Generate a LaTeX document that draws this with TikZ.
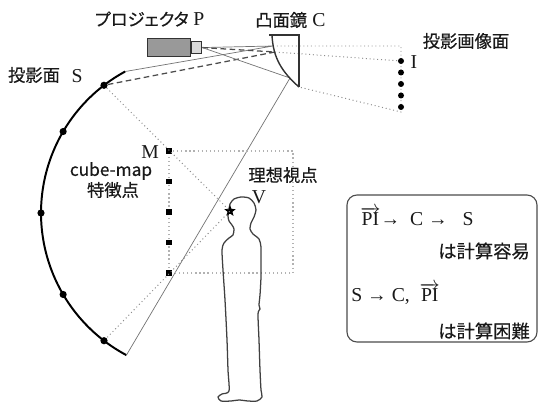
\documentclass[tikz,border=0pt]{standalone}
\usepackage{fontspec}
\setmainfont{Liberation Serif}
\newfontfamily\jpfont[FakeBold=0.45]{Noto Sans CJK JP}
\newfontfamily\jpnarrow[FakeBold=0.45, RawFeature=+palt]{Noto Sans CJK JP}
\usetikzlibrary{shapes.geometric}

\begin{document}
\begin{tikzpicture}[x=0.25mm, y=-0.25mm,
		every node/.style={inner sep=0pt, text=black!90, font=\fontsize{14}{16}\selectfont},
		jp/.style={font=\jpfont\fontsize{12.3}{14}\selectfont},
		jpbox/.style={font=\jpfont\fontsize{13}{15}\selectfont},
		sdot/.style={circle, fill=black, minimum size=1.8mm},
		idot/.style={circle, fill=black, minimum size=1.5mm},
		msq/.style={rectangle, fill=black, minimum size=1.3mm},
		ray/.style={black!55, line width=0.5pt},
		dray/.style={black!70, line width=0.9pt, dash pattern=on 4pt off 2.5pt},
		vray/.style={black!45, line width=0.7pt, dotted},
		frame/.style={black!30, line width=0.9pt, dotted}]
			\useasboundingbox (0,0) rectangle (540,403);

			\node[draw=black!80, fill=black!40, line width=0.8pt, minimum width=10.75mm, minimum height=4.5mm, anchor=north west] (body) at (147,38) {};
			\node[draw=black!80, fill=black!15, line width=0.8pt, minimum width=2.5mm, minimum height=2.9mm, anchor=west] (lens) at (body.east) {};

			\coordinate (mtop) at (273,46);
			\coordinate (mmid) at (275,52);
			\coordinate (mbot) at (290,78);
			\coordinate (mtip) at (299,87);

			\coordinate (stop) at ({202+161*cos(118.5)}, {213-161*sin(118.5)});
			\coordinate (sbot) at ({202+161*cos(242)}, {213-161*sin(242)});
			\node[sdot] (s1) at ({202+161*cos(127.5)}, {213-161*sin(127.5)}) {};
			\node[sdot] (s2) at ({202+161*cos(149.6)}, {213-161*sin(149.6)}) {};
			\node[sdot] (s3) at (41,213) {};
			\node[sdot] (s4) at ({202+161*cos(210.4)}, {213-161*sin(210.4)}) {};
			\node[sdot] (s5) at ({202+161*cos(232.5)}, {213-161*sin(232.5)}) {};
			\draw[black, line width=1.4pt, domain=118.5:242, samples=80] plot ({202+161*cos(\x)}, {213-161*sin(\x)});

			\draw[ray] (lens.east) -- (mtop) -- (stop);
			\draw[dray] (lens.east) -- (mmid) -- (s1);
			\draw[ray] (lens.east) -- (mbot) -- (sbot);

			\coordinate (itop) at (401,46);
			\coordinate (ibot) at (401,112);
			\draw[vray] (mtop) -- (itop) -- (ibot) -- (mtip);
			\node[idot] (i1) at (401,61) {};
			\node[idot] (i2) at (401,72.5) {};
			\node[idot] (i3) at (401,84) {};
			\node[idot] (i4) at (401,95.5) {};
			\node[idot] (i5) at (401,107) {};
			\draw[vray] (mmid) -- (i1);

			\draw[black!80, line width=1pt] (269,35) -- (299,35) -- (mtip);
			\draw[black!80, line width=1pt] (272,35) .. controls (273,58) and (282,72) .. (mtip);

			\coordinate (f0) at (169,151);
			\coordinate (f1) at (293,151);
			\coordinate (f2) at (293,273);
			\coordinate (f3) at (169,273);
			\draw[frame] (f0) -- (f1) -- (f2) -- (f3) -- cycle;
			\node[msq] (m1) at (169,151) {};
			\node[msq] (m2) at (169,181.5) {};
			\node[msq] (m3) at (169,212) {};
			\node[msq] (m4) at (169,242.5) {};
			\node[msq] (m5) at (169,273) {};

			\draw[black!75, line width=0.9pt] plot[smooth cycle, tension=0.45] coordinates {
				(229,210) (230,204) (234,199) (241,197) (249,198) (254,203) (256,210)
				(254,217) (251,223) (250,229) (253,234) (259,239) (261,247) (261,262)
				(261,277) (260,295) (259,305) (260,309) (258,314) (259,340) (260,370)
				(261,390) (262,397) (257,401) (248,401) (239,400) (231,401) (221,401)
				(218,397) (222,394) (229,391) (228,370) (227,340) (225,300) (223,270)
				(222,250) (224,243) (229,238) (233,235) (234,229) (232,225) (229,221) (228,216)};
			\node[star, star points=5, star point ratio=2.3, fill=black, minimum size=3mm] (V) at (230,211) {};
			\draw[vray] (s1) -- (V.center) -- (s5);

			\node[font=\jpnarrow\fontsize{12.3}{14}\selectfont, anchor=east] (plabel) at (189,19) {プロジェクタ};
			\node[anchor=west] (pname) at (193,19) {P};
			\node[jp, anchor=west] (clabel) at (255,20) {凸面鏡};
			\node[anchor=west] (cname) at (312,20) {C};
			\node[jp] (ilabel) at (466,41) {投影画像面};
			\node (iname) at (414,62) {I};
			\node[jp] (slabel) at (34,75) {投影面};
			\node (sname) at (77,76) {S};
			\node (mname) at (150,152) {M};
			\node[jp] (cmlabel) at (111,171) {cube-map};
			\node[jp] (fplabel) at (113,190) {特徴点};
			\node[jp] (vlabel) at (283,175) {理想視点};
			\node (vname) at (259,197) {V};

			\node[draw=black!70, line width=0.8pt, rounded corners=2.5mm, minimum width=47.5mm, minimum height=36.75mm] (note) at (442,268.5) {};
			\node[anchor=base west] (easy) at (360,225.5) {$\overrightarrow{\mbox{PI}}$→\ \ C\ →\ \ \ S};
			\node[jpbox, anchor=east] (easyj) at (530,251) {は計算容易};
			\node[anchor=base west] (hard) at (351,301.5) {S →\ C,\ \ $\overrightarrow{\mbox{PI}}$};
			\node[jpbox, anchor=east] (hardj) at (530,331) {は計算困難};
		\end{tikzpicture}
\end{document}
